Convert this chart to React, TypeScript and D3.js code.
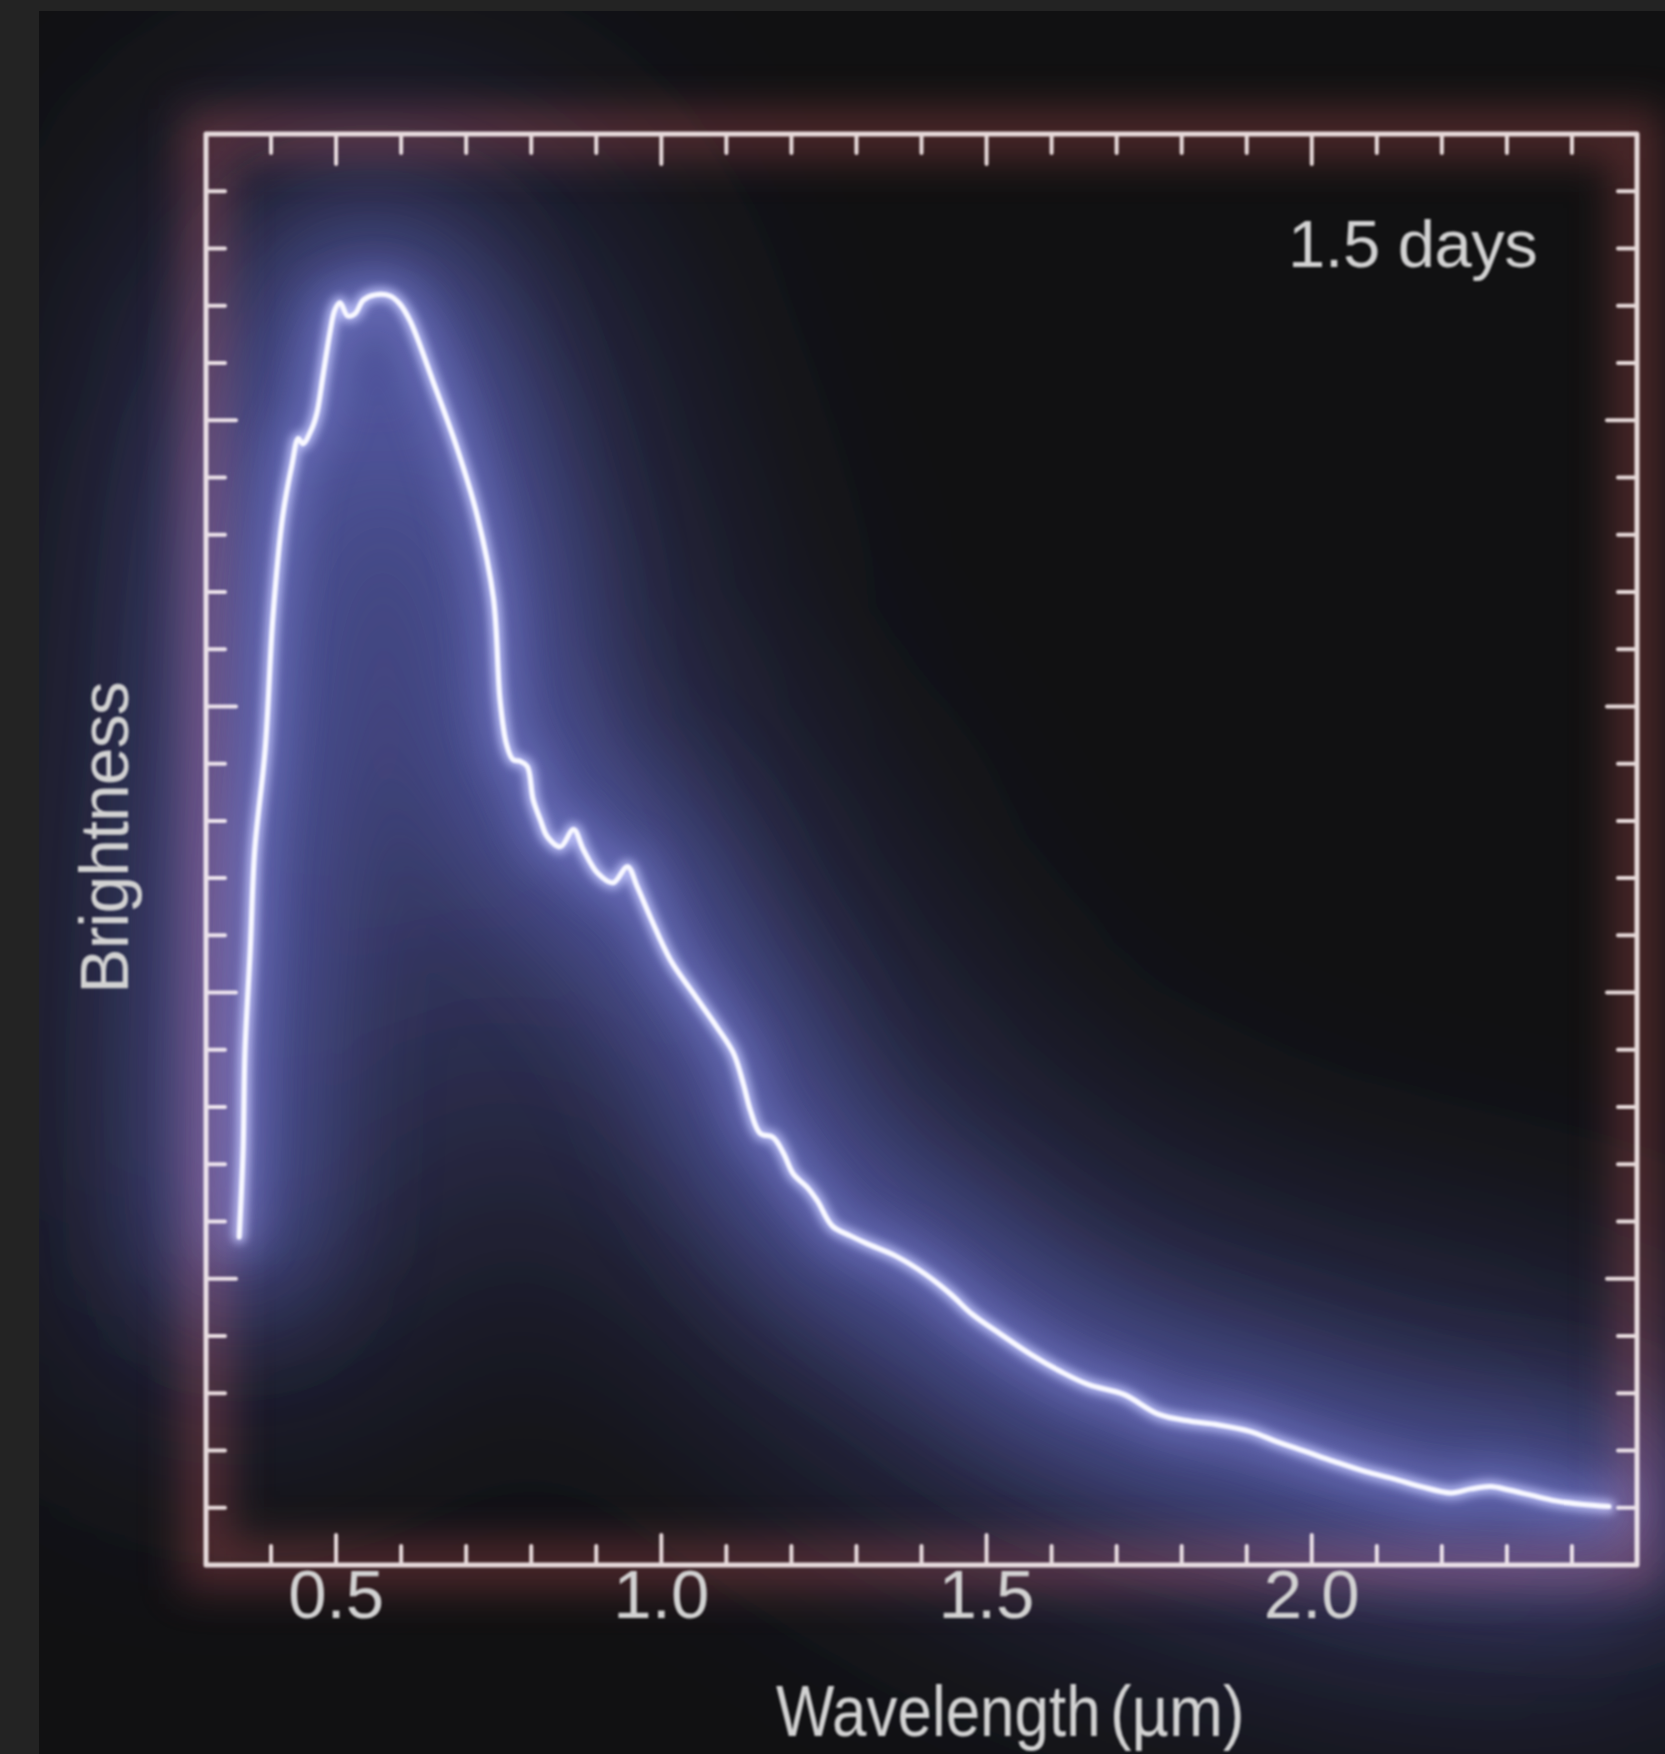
import React from 'react';
import * as d3 from 'd3';

// spectrum (wavelength in µm, brightness in arbitrary units)
const wavelength = [0.351, 0.357, 0.360, 0.368, 0.375, 0.391, 0.403, 0.418, 0.432, 0.442, 0.449, 0.463, 0.471, 0.480, 0.491, 0.498, 0.506, 0.518, 0.529, 0.542, 0.560, 0.583, 0.598, 0.614, 0.649, 0.686, 0.717, 0.742, 0.752, 0.762, 0.772, 0.783, 0.794, 0.803, 0.814, 0.825, 0.845, 0.865, 0.880, 0.902, 0.926, 0.948, 0.963, 0.983, 1.014, 1.049, 1.086, 1.111, 1.126, 1.137, 1.152, 1.172, 1.188, 1.203, 1.225, 1.240, 1.263, 1.291, 1.317, 1.360, 1.406, 1.445, 1.478, 1.522, 1.568, 1.614, 1.657, 1.711, 1.765, 1.814, 1.855, 1.906, 1.945, 1.991, 2.034, 2.083, 2.125, 2.168, 2.214, 2.245, 2.275, 2.303, 2.337, 2.375, 2.414, 2.457];
const brightness = [5.73, 7.24, 8.99, 10.74, 12.50, 14.25, 16.58, 18.33, 19.21, 19.68, 19.59, 19.86, 20.15, 20.79, 21.56, 21.92, 22.05, 21.82, 21.86, 22.10, 22.19, 22.17, 22.03, 21.73, 20.68, 19.51, 18.33, 16.88, 15.12, 14.34, 14.07, 14.04, 13.95, 13.37, 13.02, 12.72, 12.55, 12.85, 12.50, 12.09, 11.92, 12.20, 11.85, 11.32, 10.57, 9.99, 9.39, 8.94, 8.41, 7.94, 7.54, 7.47, 7.19, 6.83, 6.59, 6.36, 5.92, 5.75, 5.61, 5.40, 5.08, 4.73, 4.38, 4.03, 3.68, 3.38, 3.15, 2.98, 2.63, 2.51, 2.45, 2.33, 2.16, 1.98, 1.81, 1.63, 1.51, 1.37, 1.26, 1.33, 1.37, 1.31, 1.22, 1.12, 1.06, 1.02];

const xDomain = [0.3, 2.5];
const yDomain = [0, 25];
const xLabels = ['0.5', '1.0', '1.5', '2.0'];
const epochLabel = '1.5 days';

const W = 1665;
const H = 1754;
const frame = { left: 206, right: 1637, top: 134, bottom: 1565 };
const font = '"Liberation Sans", Arial, Helvetica, sans-serif';
const frameColor = '#e6d9d9';
const textColor = '#d2d2d2';

const App = () => {
    const x = d3.scaleLinear().domain(xDomain).range([frame.left, frame.right]);
    const y = d3.scaleLinear().domain(yDomain).range([frame.bottom, frame.top]);

    const points = wavelength.map((w, i) => [w, brightness[i]] as [number, number]);
    const line = d3.line<[number, number]>()
        .x(d => x(d[0]))
        .y(d => y(d[1]))
        .curve(d3.curveCatmullRom.alpha(0.5));
    const path = line(points) || '';

    const xTicks = d3.range(4, 25).map(i => i / 10);
    const yTicks = d3.range(1, 25);
    const isMajorX = (v: number) => Math.abs(v * 2 - Math.round(v * 2)) < 1e-6;
    const minorLen = 19;
    const majorLen = 30;

    const tickLines: JSX.Element[] = [];
    xTicks.forEach((v, i) => {
        const len = isMajorX(v) ? majorLen : minorLen;
        const px = x(v);
        tickLines.push(<line key={'b' + i} x1={px} x2={px} y1={frame.bottom} y2={frame.bottom - len} />);
        tickLines.push(<line key={'t' + i} x1={px} x2={px} y1={frame.top} y2={frame.top + len} />);
    });
    yTicks.forEach((v, i) => {
        const len = v % 5 === 0 ? majorLen : minorLen;
        const py = y(v);
        tickLines.push(<line key={'l' + i} x1={frame.left} x2={frame.left + len} y1={py} y2={py} />);
        tickLines.push(<line key={'r' + i} x1={frame.right} x2={frame.right - len} y1={py} y2={py} />);
    });

    const fw = frame.right - frame.left;
    const fh = frame.bottom - frame.top;

    return (
        <svg width={W} height={H} style={{ position: 'absolute', left: 0, top: 0, display: 'block' }}>
            <defs>
                <filter id="huge" filterUnits="userSpaceOnUse" x={0} y={0} width={W} height={H}>
                    <feGaussianBlur stdDeviation={150} />
                </filter>
                <filter id="wide" filterUnits="userSpaceOnUse" x={0} y={0} width={W} height={H}>
                    <feGaussianBlur stdDeviation={60} />
                </filter>
                <filter id="mid" filterUnits="userSpaceOnUse" x={0} y={0} width={W} height={H}>
                    <feGaussianBlur stdDeviation={20} />
                </filter>
                <filter id="near" filterUnits="userSpaceOnUse" x={0} y={0} width={W} height={H}>
                    <feGaussianBlur stdDeviation={5} />
                </filter>
                <filter id="soft" x="-10%" y="-10%" width="120%" height="120%">
                    <feGaussianBlur stdDeviation={1} />
                </filter>
                <clipPath id="img">
                    <rect x={39} y={11} width={W - 39} height={H - 11} />
                </clipPath>
            </defs>

            <rect width={W} height={H} fill="#232323" />
            <g clipPath="url(#img)">
                <rect x={39} y={11} width={W - 39} height={H - 11} fill="#111112" />

                {/* reddish halo of the frame */}
                <rect x={frame.left} y={frame.top} width={fw} height={fh}
                      fill="none" stroke="#7e3a3e" strokeWidth={50} opacity={0.55} filter="url(#mid)" />

                {/* frame and ticks */}
                <g stroke={frameColor} strokeWidth={4} strokeLinecap="round" filter="url(#soft)">
                    <rect x={frame.left} y={frame.top} width={fw} height={fh}
                          fill="none" strokeWidth={5} strokeLinejoin="round" />
                    {tickLines}
                </g>

                {/* blue glow of the spectrum */}
                <g style={{ mixBlendMode: 'screen' }}>
                    <path d={path} fill="none" stroke="#303470" strokeWidth={300} strokeLinejoin="round"
                          strokeLinecap="round" opacity={0.9} filter="url(#huge)" />
                    <path d={path} fill="none" stroke="#4a50a0" strokeWidth={140} strokeLinejoin="round"
                          strokeLinecap="round" opacity={0.85} filter="url(#wide)" />
                    <path d={path} fill="none" stroke="#6a70c4" strokeWidth={36} strokeLinejoin="round"
                          strokeLinecap="round" opacity={0.75} filter="url(#mid)" />
                    <path d={path} fill="none" stroke="#c0c4ff" strokeWidth={13} strokeLinejoin="round"
                          strokeLinecap="round" opacity={0.85} filter="url(#near)" />
                </g>
                <path d={path} fill="none" stroke="#f8f8ff" strokeWidth={5} strokeLinejoin="round"
                      strokeLinecap="round" filter="url(#soft)" />

                {/* text */}
                <g fill={textColor} fontFamily={font} filter="url(#soft)">
                    {xLabels.map(l => (
                        <text key={l} x={x(+l)} y={1618} fontSize={69} textAnchor="middle">{l}</text>
                    ))}
                    <text transform="translate(776,1736) scale(0.86,1)" fontSize={72}>Wavelength</text>
                    <text transform="translate(1110,1736) scale(0.9,1)" fontSize={72}>(µm)</text>
                    <text transform="translate(128,838) rotate(-90)" fontSize={68} textAnchor="middle" letterSpacing={-1}>Brightness</text>
                    <text x={1288} y={267} fontSize={67} letterSpacing={-0.5}>{epochLabel}</text>
                </g>
            </g>
        </svg>
    );
};

export default App;
